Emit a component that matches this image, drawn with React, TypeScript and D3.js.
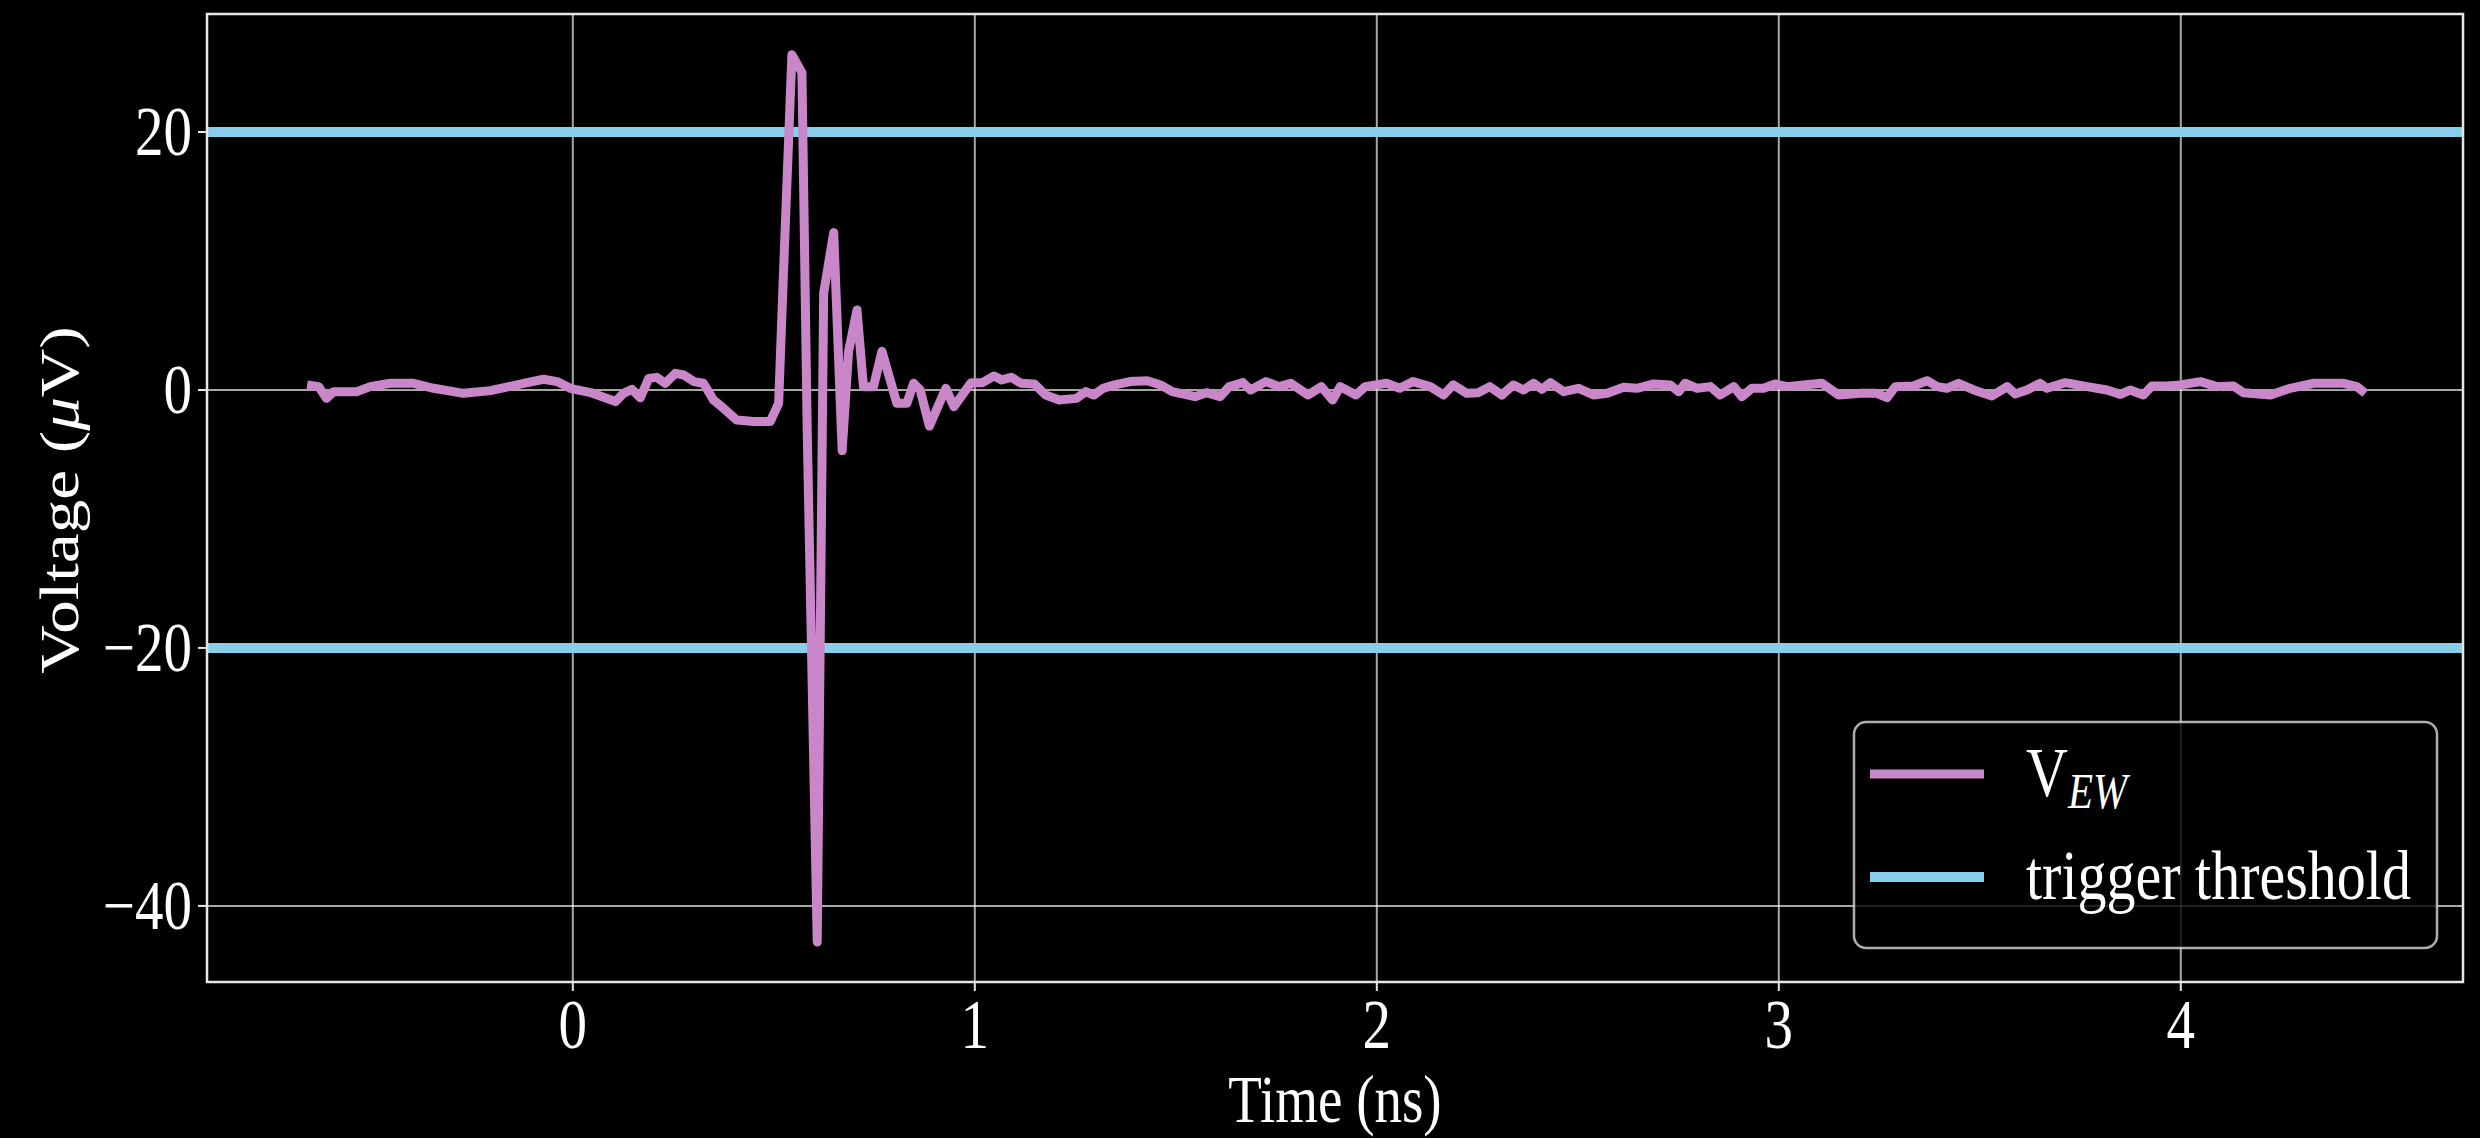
import React, { useEffect, useRef } from "react";
import * as d3 from "d3";

// trace (time in ns, voltage in uV)
const timeNs = [
  -0.661, -0.632, -0.613, -0.595, -0.537, -0.504, -0.454, -0.396, -0.346, -0.272,
  -0.205, -0.122, -0.073, -0.039, -0.006, 0.044, 0.106, 0.126, 0.147, 0.168,
  0.189, 0.209, 0.23, 0.255, 0.276, 0.301, 0.325, 0.35, 0.375, 0.408,
  0.45, 0.491, 0.512, 0.524, 0.545, 0.57, 0.583, 0.608, 0.624, 0.649,
  0.67, 0.686, 0.707, 0.723, 0.748, 0.769, 0.806, 0.831, 0.848, 0.864,
  0.887, 0.928, 0.948, 0.991, 1.019, 1.048, 1.067, 1.091, 1.115, 1.148,
  1.176, 1.21, 1.253, 1.276, 1.296, 1.319, 1.348, 1.386, 1.429, 1.462,
  1.491, 1.548, 1.576, 1.61, 1.633, 1.667, 1.686, 1.724, 1.757, 1.786,
  1.829, 1.862, 1.89, 1.909, 1.948, 1.971, 2.024, 2.057, 2.09, 2.133,
  2.166, 2.19, 2.224, 2.252, 2.281, 2.311, 2.34, 2.365, 2.39, 2.411,
  2.432, 2.465, 2.502, 2.539, 2.573, 2.614, 2.647, 2.689, 2.73, 2.751,
  2.767, 2.797, 2.83, 2.854, 2.888, 2.908, 2.933, 2.962, 2.991, 3.02,
  3.062, 3.107, 3.149, 3.203, 3.244, 3.269, 3.29, 3.335, 3.369, 3.394,
  3.418, 3.447, 3.485, 3.53, 3.568, 3.588, 3.617, 3.65, 3.667, 3.713,
  3.767, 3.816, 3.85, 3.874, 3.907, 3.928, 3.965, 3.998, 4.049, 4.09,
  4.131, 4.156, 4.223, 4.272, 4.331, 4.405, 4.438, 4.459,
];
const voltageUv = [
  0.39, 0.26, -0.65, -0.13, -0.13, 0.26, 0.52, 0.52, 0.13, -0.26,
  -0.05, 0.52, 0.83, 0.65, 0.13, -0.2, -0.9, -0.26, 0.05, -0.6,
  0.9, 0.98, 0.52, 1.29, 1.16, 0.65, 0.52, -0.78, -1.42, -2.33,
  -2.45, -2.45, -1.03, 9.06, 26.0, 24.6, -3.0, -42.8, 7.5, 12.2,
  -4.7, 3.0, 6.2, 0.26, 0.26, 3.0, -1.03, -1.03, 0.52, 0.0,
  -2.8, 0.13, -1.3, 0.57, 0.57, 1.09, 0.78, 0.98, 0.52, 0.47,
  -0.39, -0.78, -0.65, -0.13, -0.39, 0.13, 0.39, 0.65, 0.72, 0.39,
  -0.13, -0.52, -0.21, -0.52, 0.26, 0.57, 0.0, 0.65, 0.26, 0.52,
  -0.39, 0.26, -0.78, 0.26, -0.39, 0.26, 0.52, 0.13, 0.65, 0.26,
  -0.39, 0.39, -0.26, -0.21, 0.26, -0.39, 0.39, 0.0, 0.52, 0.05,
  0.57, -0.13, 0.13, -0.39, -0.26, 0.21, 0.13, 0.47, 0.39, -0.13,
  0.52, 0.13, 0.26, -0.39, 0.26, -0.52, 0.13, 0.13, 0.47, 0.26,
  0.39, 0.52, -0.39, -0.26, -0.26, -0.6, 0.26, 0.31, 0.72, 0.26,
  0.13, 0.52, 0.0, -0.47, 0.26, -0.31, 0.0, 0.52, 0.13, 0.57,
  0.26, 0.0, -0.34, 0.0, -0.39, 0.31, 0.31, 0.39, 0.65, 0.26,
  0.31, -0.21, -0.39, 0.13, 0.52, 0.52, 0.26, -0.26,
];

const thresholdLevels = [20, -20];
const xTickValues = [0, 1, 2, 3, 4];
const yTickValues = [-40, -20, 0, 20];
const xDomain = [-0.91, 4.702];
const yDomain = [-45.9, 29.15];

const pink = "#c986c9";
const sky = "#87ceeb";
const font = "'Liberation Serif', 'DejaVu Serif', serif";
const stretch = 1.22; // reference text is taller than it is wide

export default function App() {
  const ref = useRef<SVGSVGElement>(null);

  useEffect(() => {
    const width = 2480;
    const height = 1138;
    const margin = { top: 14, right: 17, bottom: 156, left: 207 };
    const svg = d3.select(ref.current);
    svg.selectAll("*").remove();

    const x = d3.scaleLinear().domain(xDomain).range([margin.left, width - margin.right]);
    const y = d3.scaleLinear().domain(yDomain).range([height - margin.bottom, margin.top]);
    const fmt = d3.format("d");

    svg.append("rect").attr("width", width).attr("height", height).attr("fill", "#000");

    // grid
    const grid = svg.append("g")
      .attr("stroke", "#ffffff")
      .attr("stroke-opacity", 0.65)
      .attr("stroke-width", 2);
    grid.selectAll(".gx").data(xTickValues).join("line")
      .attr("x1", d => x(d)).attr("x2", d => x(d))
      .attr("y1", margin.top).attr("y2", height - margin.bottom);
    grid.selectAll(".gy").data(yTickValues).join("line")
      .attr("y1", d => y(d)).attr("y2", d => y(d))
      .attr("x1", margin.left).attr("x2", width - margin.right);

    svg.append("defs").append("clipPath").attr("id", "plotclip")
      .append("rect")
      .attr("x", margin.left).attr("y", margin.top)
      .attr("width", width - margin.left - margin.right)
      .attr("height", height - margin.top - margin.bottom);

    const plot = svg.append("g").attr("clip-path", "url(#plotclip)");

    // threshold lines
    plot.selectAll(".thr").data(thresholdLevels).join("line")
      .attr("x1", margin.left).attr("x2", width - margin.right)
      .attr("y1", d => y(d)).attr("y2", d => y(d))
      .attr("stroke", sky).attr("stroke-width", 10);

    // signal trace
    const pts = timeNs.map((t, i) => [t, voltageUv[i]] as [number, number]);
    plot.append("path")
      .datum(pts)
      .attr("fill", "none")
      .attr("stroke", pink)
      .attr("stroke-width", 9)
      .attr("stroke-linejoin", "round")
      .attr("stroke-linecap", "butt")
      .attr("d", d3.line().x(d => x(d[0])).y(d => y(d[1])));

    // spines
    svg.append("rect")
      .attr("x", margin.left).attr("y", margin.top)
      .attr("width", width - margin.left - margin.right)
      .attr("height", height - margin.top - margin.bottom)
      .attr("fill", "none").attr("stroke", "#e6e6e6").attr("stroke-width", 2.5);

    // ticks
    const ticks = svg.append("g").attr("stroke", "#e6e6e6").attr("stroke-width", 2);
    ticks.selectAll(".tx").data(xTickValues).join("line")
      .attr("x1", d => x(d)).attr("x2", d => x(d))
      .attr("y1", height - margin.bottom).attr("y2", height - margin.bottom + 9);
    ticks.selectAll(".ty").data(yTickValues).join("line")
      .attr("y1", d => y(d)).attr("y2", d => y(d))
      .attr("x1", margin.left).attr("x2", margin.left - 9);

    const labels = svg.append("g").attr("fill", "#ffffff").attr("font-family", font);
    labels.selectAll(".lx").data(xTickValues).join("text")
      .attr("transform", d => `translate(${x(d)},${height - margin.bottom + 66}) scale(1,${stretch})`)
      .attr("text-anchor", "middle")
      .attr("font-size", 57)
      .text(d => fmt(d));
    labels.selectAll(".ly").data(yTickValues).join("text")
      .attr("transform", d => `translate(${margin.left - 15},${y(d) + 23}) scale(1,${stretch})`)
      .attr("text-anchor", "end")
      .attr("font-size", 57)
      .text(d => fmt(d));

    // axis titles
    labels.append("text")
      .attr("transform", `translate(${(margin.left + width - margin.right) / 2},1122) scale(1,${stretch})`)
      .attr("text-anchor", "middle")
      .attr("font-size", 55)
      .text("Time (ns)");
    const yl = labels.append("text")
      .attr("transform", `translate(78,500) scale(1,${stretch}) rotate(-90)`)
      .attr("text-anchor", "middle")
      .attr("font-size", 55);
    yl.append("tspan").text("Voltage (");
    yl.append("tspan").attr("font-style", "italic").text("μ");
    yl.append("tspan").text("V)");

    // legend
    const leg = svg.append("g");
    leg.append("rect")
      .attr("x", 1854).attr("y", 722).attr("width", 583).attr("height", 226)
      .attr("rx", 12)
      .attr("fill", "#000").attr("fill-opacity", 0.8)
      .attr("stroke", "#cccccc").attr("stroke-opacity", 0.85).attr("stroke-width", 2.5);
    const entries = [
      { color: pink, width: 9, y: 774 },
      { color: sky, width: 10, y: 877 },
    ];
    leg.selectAll(".lh").data(entries).join("line")
      .attr("x1", 1870).attr("x2", 1984)
      .attr("y1", d => d.y).attr("y2", d => d.y)
      .attr("stroke", d => d.color).attr("stroke-width", d => d.width);
    const t1 = leg.append("text")
      .attr("transform", `translate(2026,796) scale(1,${stretch})`)
      .attr("font-family", font).attr("font-size", 58).attr("fill", "#fff");
    t1.append("tspan").text("V");
    t1.append("tspan").attr("font-style", "italic").attr("font-size", 41).attr("dy", 10).text("EW");
    leg.append("text")
      .attr("transform", `translate(2026,899) scale(1,${stretch})`)
      .attr("font-family", font).attr("font-size", 58).attr("fill", "#fff")
      .text("trigger threshold");
  }, []);

  return (
    <svg
      ref={ref}
      width={2480}
      height={1138}
      style={{ position: "absolute", left: 0, top: 0, display: "block", background: "#000" }}
    />
  );
}
